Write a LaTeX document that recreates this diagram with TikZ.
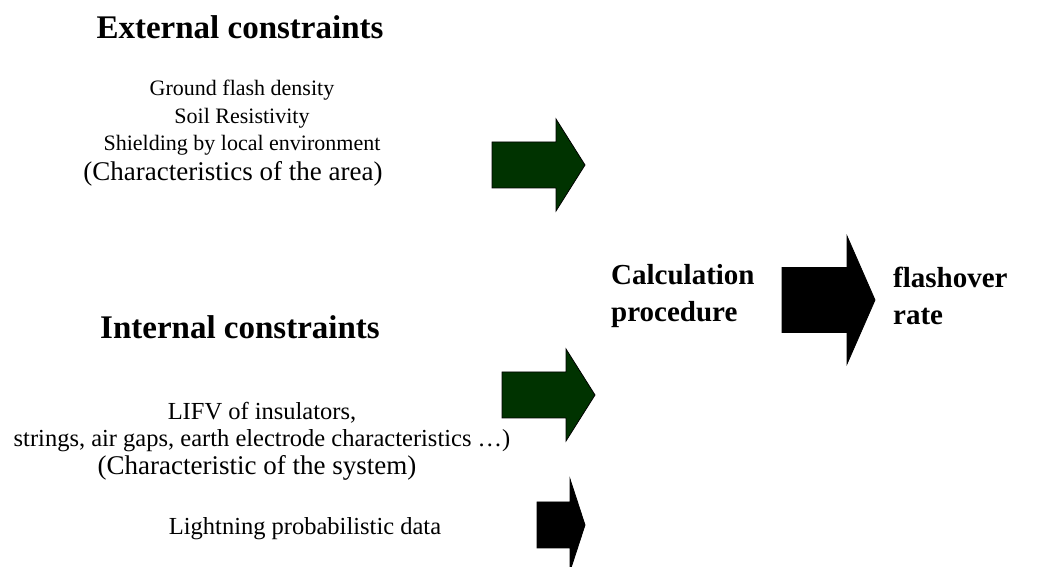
\documentclass[tikz,border=0pt]{standalone}
\usepackage{fontspec}
\setmainfont{Liberation Serif}
\usetikzlibrary{positioning}
\definecolor{darkgreen}{RGB}{0,51,0}
% block arrow: colour, left end (centre of tail), length, head length, shaft half, head half
\newcommand{\blockarrow}[6]{%
  \filldraw[fill=#1, draw=black, line width=0.8pt] (#2) ++(0,#5) -- ++({#3-#4},0) -- ++(0,{#6-#5})
    -- ++(#4,-#6) -- ++(-#4,-#6) -- ++(0,{#6-#5}) -- ++({#4-#3},0) -- cycle;}

\begin{document}
\begin{tikzpicture}[
    x=1pt, y=1pt,
    heading/.style={font=\fontsize{33}{38}\selectfont\bfseries, inner sep=0pt},
    list/.style={font=\fontsize{22}{27.5}\selectfont, align=center, inner sep=0pt},
    biglist/.style={font=\fontsize{24.5}{27.5}\selectfont, align=center, inner sep=0pt},
    paren/.style={font=\fontsize{27}{30}\selectfont, inner sep=0pt},
    result/.style={font=\fontsize{29}{37}\selectfont\bfseries, align=left, inner sep=0pt, anchor=west}
  ]
    \clip (0,0) rectangle (1042,567);
    \fill[white] (0,0) rectangle (1042,567);
    % left column
    \node[heading] (ext) at (240,540) {External constraints};
    \node[list] (extlist) at (242,449) {Ground flash density\\Soil Resistivity\\Shielding by local environment};
    \node[paren] (extarea) at (233,393) {(Characteristics of the area)};
    \node[heading] (int) at (240,240) {Internal constraints};
    \node[biglist] (intlist) at (262,140) {LIFV of insulators,\\strings, air gaps, earth electrode characteristics \dots)};
    \node[paren] (intsys) at (257,99) {(Characteristic of the system)};
    \node[biglist] (prob) at (305,38) {Lightning probabilistic data};
    % right column
    \node[result] (calc) at (611,271) {Calculation\\procedure};
    \node[result] (flash) at (893,271) {flashover\\rate};
    % arrows
    \coordinate (a1) at (492,402);
    \coordinate (a2) at (502,172);
    \coordinate (a3) at (537,42);
    \coordinate (a4) at (782,267);
    \blockarrow{darkgreen}{a1}{93}{29}{23}{46}
    \blockarrow{darkgreen}{a2}{93}{29}{23}{46}
    \blockarrow{black}{a3}{48}{15}{23}{46}
    \blockarrow{black}{a4}{93}{28}{32.5}{64}
  \end{tikzpicture}
\end{document}
